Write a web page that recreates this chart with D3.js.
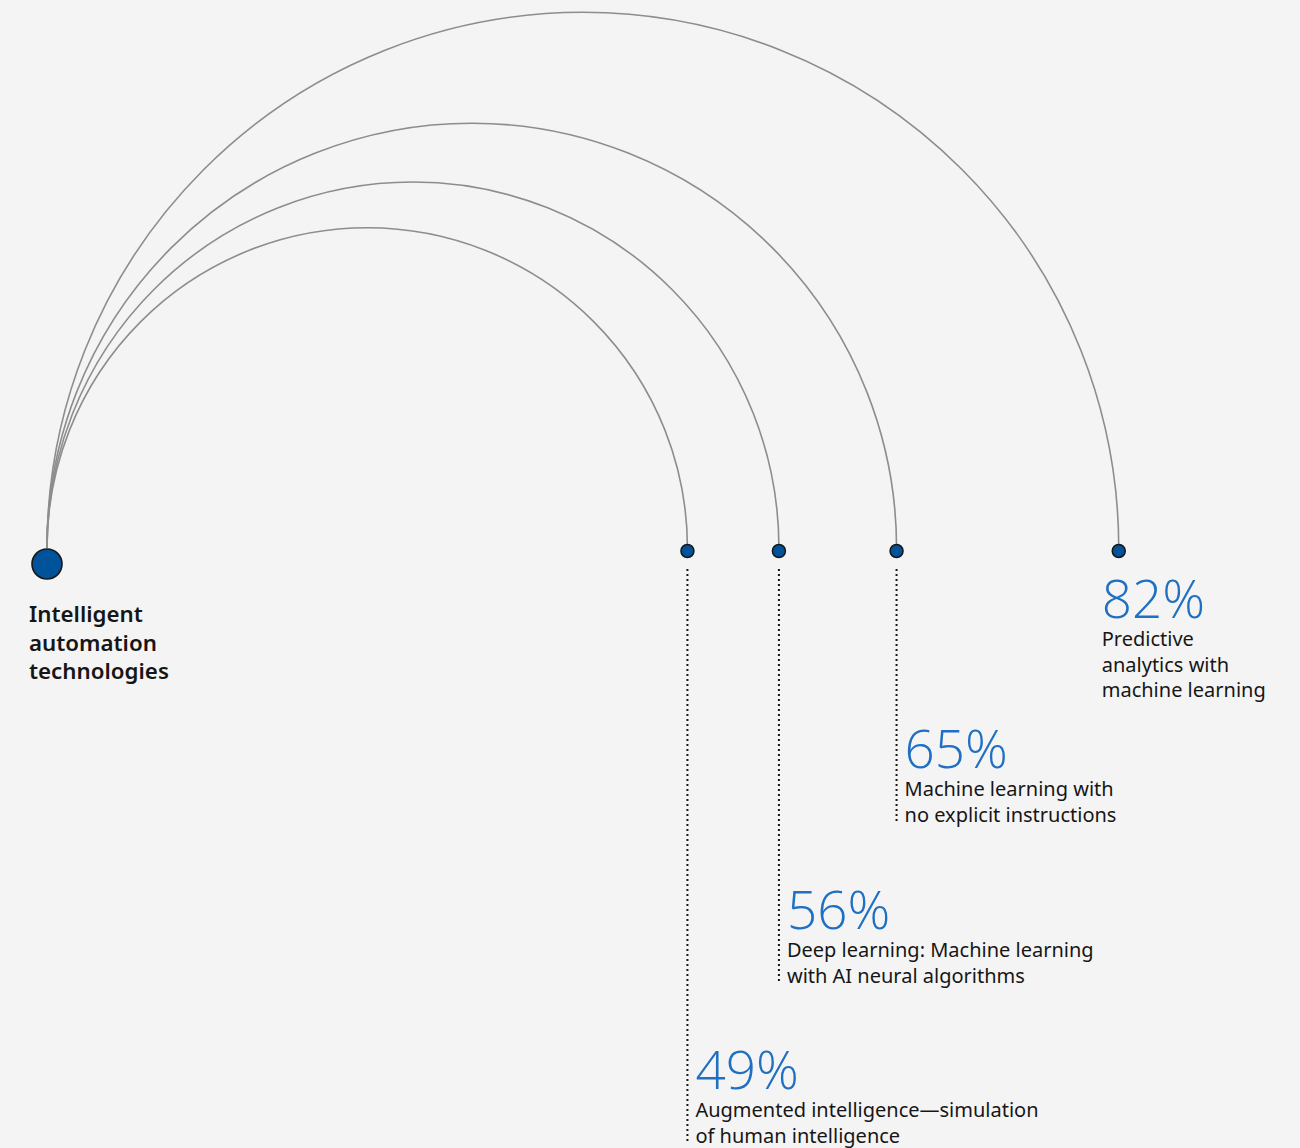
<!DOCTYPE html>
<html><head><meta charset="utf-8">
<script src="https://cdn.jsdelivr.net/npm/d3@7"></script>
<style>
html,body{margin:0;padding:0;background:#f4f4f4;}
svg{display:block;}
</style></head>
<body>
<svg id="c" width="1300" height="1148"></svg>
<script>
const sourceLabel = ["Intelligent", "automation", "technologies"];
const values = [49, 56, 65, 82];
const labels = [
  ["Augmented intelligence\u2014simulation", "of human intelligence"],
  ["Deep learning: Machine learning", "with AI neural algorithms"],
  ["Machine learning with", "no explicit instructions"],
  ["Predictive", "analytics with", "machine learning"]
];
// baseline of each percentage text
const labelBaselines = [1089, 929, 768, 618];

const svg = d3.select("#c");
const x = d3.scaleLinear().domain([0, 100]).range([47, 47 + 1307]);
const baseY = 548, dotY = 551;

const fontLabel = "'Noto Sans', 'Open Sans', sans-serif";
const fontNum = "'Open Sans', 'Lato', sans-serif";

// arcs
values.forEach(v => {
  const x0 = x(0), x1 = x(v), r = (x1 - x0) / 2;
  svg.append("path")
    .attr("d", `M${x0},${baseY} A${r},${r} 0 0 1 ${x1},${baseY}`)
    .attr("fill", "none").attr("stroke", "#8d8d8d").attr("stroke-width", 1.6);
});

// dotted lines
values.forEach((v, i) => {
  const nLines = labels[i].length;
  const bottom = labelBaselines[i] + 25.5 * nLines + 4;
  if (labelBaselines[i] - dotY > 100) {
    svg.append("line")
      .attr("x1", x(v)).attr("x2", x(v))
      .attr("y1", 569).attr("y2", bottom)
      .attr("stroke", "#161616").attr("stroke-width", 2)
      .attr("stroke-dasharray", "2,3");
  }
});

// dots
svg.append("circle").attr("cx", x(0)).attr("cy", 564).attr("r", 15)
  .attr("fill", "#00539a").attr("stroke", "#161616").attr("stroke-width", 1.6);
values.forEach(v => {
  svg.append("circle").attr("cx", x(v)).attr("cy", dotY).attr("r", 6.5)
    .attr("fill", "#00539a").attr("stroke", "#161616").attr("stroke-width", 1.5);
});

// source label
const st = svg.append("text").attr("x", 29).attr("y", 622)
  .attr("font-family", fontLabel).attr("font-weight", 600)
  .attr("font-size", 22.3).attr("fill", "#161616");
sourceLabel.forEach((s, i) => st.append("tspan").attr("x", 29).attr("dy", i ? 28.5 : 0).text(s));

// value labels
values.forEach((v, i) => {
  const hasLeader = labelBaselines[i] - dotY > 100;
  const bx = hasLeader ? x(v) + 8 : x(v) - 17;
  svg.append("text").attr("x", bx).attr("y", labelBaselines[i])
    .attr("font-family", fontNum).attr("font-weight", 300)
    .attr("font-size", 53).attr("fill", "#1f6fc2")
    .text(v + "%");
  const t = svg.append("text").attr("x", bx).attr("y", labelBaselines[i] + 28)
    .attr("font-family", fontLabel).attr("font-size", 20).attr("fill", "#161616");
  labels[i].forEach((s, j) => t.append("tspan").attr("x", bx).attr("dy", j ? 25.5 : 0).text(s));
});
</script>
</body></html>
